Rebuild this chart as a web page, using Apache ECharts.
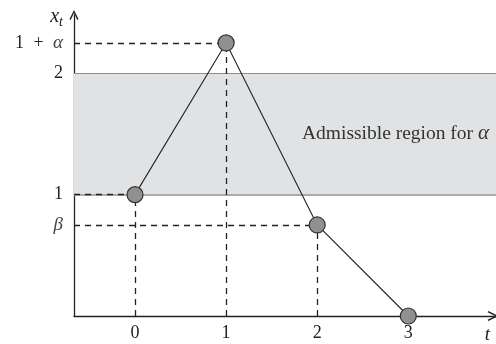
<!DOCTYPE html>
<html>
<head>
<meta charset="utf-8">
<script src="https://cdn.jsdelivr.net/npm/echarts@6/dist/echarts.min.js"></script>
<style>
  html, body { margin: 0; padding: 0; background: #fff; }
  #main { width: 496px; height: 344px; }
</style>
</head>
<body>
<div id="main"></div>
<script>
// path points (t, x_t)
var tValues = [0, 1, 2, 3];
var xValues = [1, 2.25, 0.75, 0];
// admissible band
var bandLow = 1;
var bandHigh = 2;
var bandText = 'Admissible region for ';
// axis ticks
var xTicks = [0, 1, 2, 3];
var yTicks = [0.75, 1, 2, 2.25];
var yTickLabels = ['{i|β}', '1', '2', '1 {p|+} {i|α}'];

var xMin = -0.67, xMax = 3.963;
var yMin = 0, yMax = 2.48;

var serif = '"Liberation Serif", "DejaVu Serif", serif';
// open arrow head, tip up (ECharts rotates it along the axis)
var arrowHead = 'path://M0,10 L5,0 L10,10 L8.6,10.9 L5,3.2 L1.4,10.9 Z';

var points = tValues.map(function (t, i) { return [t, xValues[i]]; });

// dashed guide lines to the axes (skip points lying on the t axis)
var guides = [];
points.forEach(function (p) {
  if (p[1] === 0) return;
  guides.push([{ coord: [xMin, p[1]] }, { coord: [p[0], p[1]] }]);
  guides.push([{ coord: [p[0], 0] }, { coord: [p[0], p[1]] }]);
});

var myChart = echarts.init(document.getElementById('main'), null, { renderer: 'canvas' });

var option = {
  animation: false,
  grid: { left: 74, right: 0, top: 15, bottom: 26 },
  xAxis: {
    type: 'value',
    min: xMin,
    max: xMax,
    splitLine: { show: false },
    axisTick: { show: false },
    axisLine: {
      onZero: false,
      lineStyle: { color: '#222', width: 1.3 },
      symbol: ['none', arrowHead],
      symbolSize: [12, 11],
      symbolOffset: [0, -3]
    },
    axisLabel: {
      customValues: xTicks,
      fontFamily: serif,
      fontSize: 18,
      color: '#222',
      margin: 8
    },
    name: 't',
    nameLocation: 'end',
    nameGap: -6,
    nameTextStyle: {
      fontFamily: serif, fontStyle: 'italic', fontSize: 19, color: '#222',
      align: 'right', verticalAlign: 'top', padding: [9, 0, 0, 0]
    }
  },
  yAxis: {
    type: 'value',
    min: yMin,
    max: yMax,
    splitLine: { show: false },
    axisTick: { show: false },
    axisLine: {
      onZero: false,
      lineStyle: { color: '#222', width: 1.3 },
      symbol: ['none', arrowHead],
      symbolSize: [11, 10],
      symbolOffset: [0, 0]
    },
    axisLabel: {
      customValues: yTicks,
      fontFamily: serif,
      fontSize: 18,
      color: '#222',
      margin: 11,
      formatter: function (v) {
        return yTickLabels[yTicks.indexOf(v)];
      },
      rich: {
        i: { fontFamily: serif, fontStyle: 'italic', fontSize: 19, color: '#444' },
        p: { fontFamily: serif, fontSize: 18, color: '#222', padding: [0, 5, 0, 5] }
      }
    },
    name: '{x|x}{s|t}{g|}',
    nameLocation: 'end',
    nameGap: -4,
    nameTextStyle: {
      align: 'right',
      verticalAlign: 'middle',
      padding: [0, 0, 4, 0],
      rich: {
        x: { fontFamily: serif, fontStyle: 'italic', fontSize: 20, color: '#222' },
        s: { fontFamily: serif, fontStyle: 'italic', fontSize: 14, color: '#222', padding: [10, 0, 0, 0] },
        g: { width: 11 }
      }
    }
  },
  series: [
    {
      type: 'line',
      data: points,
      symbol: 'circle',
      symbolSize: 16,
      z: 5,
      lineStyle: { color: '#222', width: 1.1 },
      itemStyle: { color: '#909090', borderColor: '#333', borderWidth: 1.2 },
      markArea: {
        silent: true,
        itemStyle: { color: '#e1e2e4' },
        label: {
          show: true,
          position: 'insideRight',
          formatter: bandText + '{i|α}',
          fontFamily: serif,
          fontSize: 19.5,
          color: '#333',
          offset: [-2, 0],
          rich: {
            i: { fontFamily: serif, fontStyle: 'italic', fontSize: 21, color: '#333' }
          }
        },
        data: [[{ yAxis: bandLow }, { yAxis: bandHigh }]]
      },
      markLine: {
        silent: true,
        symbol: 'none',
        label: { show: false },
        data: [
          { yAxis: bandHigh, lineStyle: { color: '#8e8e8e', width: 1.2, type: 'solid' } },
          { yAxis: bandLow, lineStyle: { color: '#aaaaaa', width: 2, type: 'solid' } }
        ].concat(guides.map(function (g) {
          return [
            Object.assign({}, g[0], { lineStyle: { color: '#222', width: 1.3, type: [6, 5] } }),
            g[1]
          ];
        }))
      }
    }
  ]
};

myChart.setOption(option);
</script>
</body>
</html>
